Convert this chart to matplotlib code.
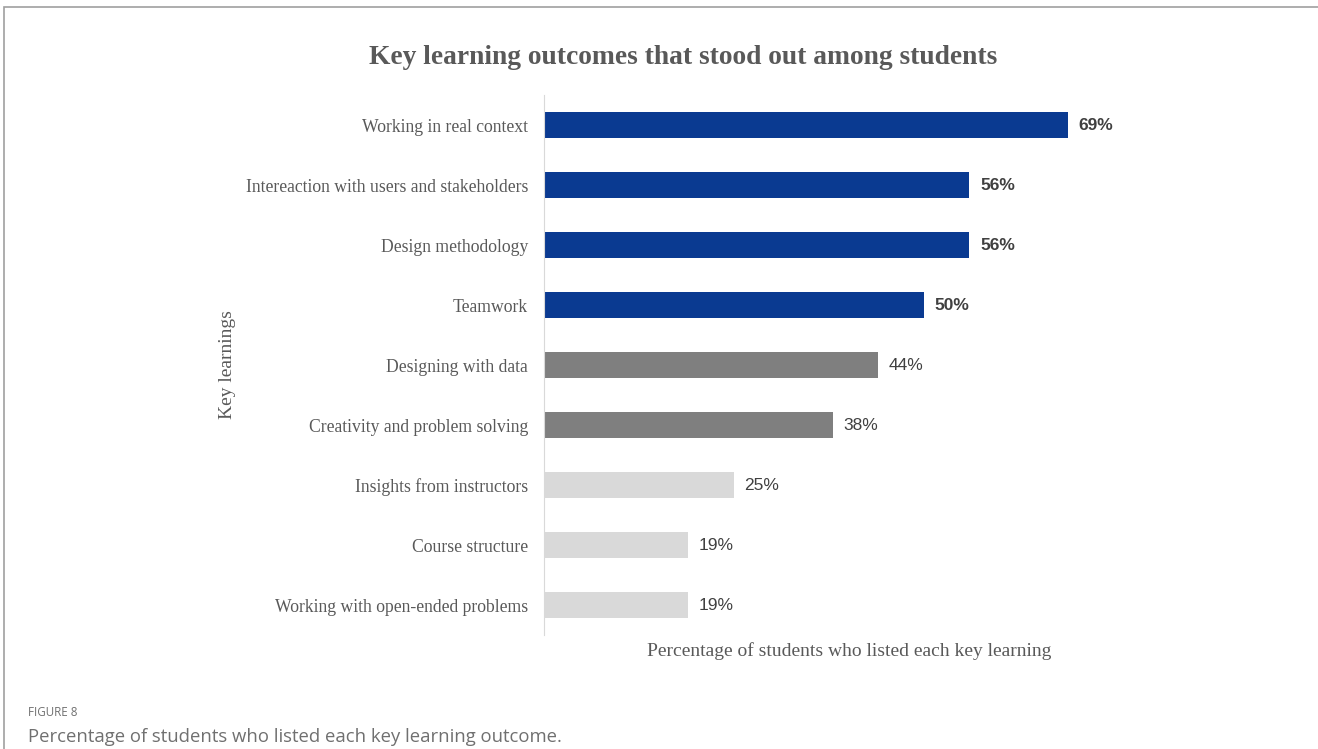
import matplotlib.pyplot as plt
from matplotlib.patches import Rectangle

labels = ['Working in real context', 'Intereaction with users and stakeholders',
          'Design methodology', 'Teamwork', 'Designing with data',
          'Creativity and problem solving', 'Insights from instructors',
          'Course structure', 'Working with open-ended problems']
values = [69, 56, 56, 50, 44, 38, 25, 19, 19]
groups = ['top', 'top', 'top', 'top', 'mid', 'mid', 'low', 'low', 'low']

colors = {'top': '#0a3a91', 'mid': '#7f7f7f', 'low': '#d9d9d9'}
serif = 'Liberation Serif'
sans = 'Liberation Sans'
grey = '#595959'

fig = plt.figure(figsize=(13.18, 7.49), dpi=100)
ax = fig.add_axes([544 / 1318, 1 - 635 / 749, 610 / 1318, 540 / 749])

y = list(range(len(labels)))
bars = ax.barh(y, values, height=0.42, color=[colors[g] for g in groups])
ax.set_ylim(len(labels) - 0.5, -0.5)
ax.set_xlim(0, 80.3)

for b, v, g in zip(bars, values, groups):
    ax.text(b.get_width() + 1.4, b.get_y() + b.get_height() / 2, f'{v}%',
            va='center', ha='left', fontsize=12.5, family=sans, color='#404040',
            fontweight='bold' if g == 'top' else 'normal')

ax.set_yticks(y)
ax.set_yticklabels(labels, family=serif, fontsize=12.7, color=grey)
ax.tick_params(axis='y', length=0, pad=11.5)
ax.set_xticks([])
for s in ['top', 'right', 'bottom']:
    ax.spines[s].set_visible(False)
ax.spines['left'].set_color('#d9d9d9')

ax.set_xlabel('Percentage of students who listed each key learning', family=serif,
              fontsize=14, color=grey, labelpad=5)
fig.text(228 / 1318, 1 - 365 / 749, 'Key learnings', rotation=90, family=serif,
         fontsize=14, color=grey, ha='center', va='center')

fig.text(683 / 1318, 1 - 57 / 749, 'Key learning outcomes that stood out among students',
         family=serif, fontsize=19.8, fontweight='bold', color=grey, ha='center', va='center')

fig.text(28 / 1318, 1 - 712 / 749, 'FIGURE 8', family='Open Sans', fontsize=8.4,
         color='#707070', ha='left', va='center')
fig.text(28 / 1318, 1 - 737 / 749, 'Percentage of students who listed each key learning outcome.',
         family='Open Sans', fontsize=13.3, color='#707070', ha='left', va='center')

fig.patches.append(Rectangle((4 / 1318, -0.1), 1.2, 1.1 - 7 / 749, transform=fig.transFigure,
                             fill=False, edgecolor='#a0a0a0', linewidth=1.2))

fig.savefig('out.png', dpi=100)
